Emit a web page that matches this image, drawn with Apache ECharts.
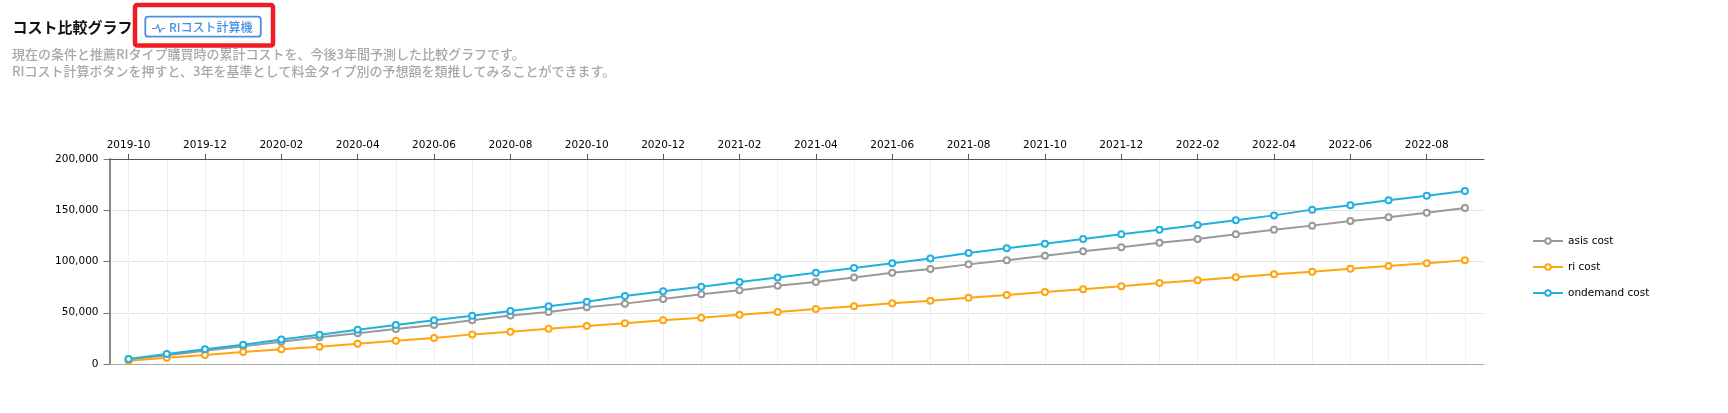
<!DOCTYPE html>
<html>
<head>
<meta charset="utf-8">
<style>html,body{margin:0;padding:0;background:#fff}#c{width:1728px;height:413px}</style>
<script src="https://cdn.jsdelivr.net/npm/echarts@6/dist/echarts.min.js"></script>
</head>
<body>
<div id="c"></div>
<script>
const months = ["2019-10","2019-11","2019-12","2020-01","2020-02","2020-03","2020-04","2020-05","2020-06","2020-07","2020-08","2020-09","2020-10","2020-11","2020-12","2021-01","2021-02","2021-03","2021-04","2021-05","2021-06","2021-07","2021-08","2021-09","2021-10","2021-11","2021-12","2022-01","2022-02","2022-03","2022-04","2022-05","2022-06","2022-07","2022-08","2022-09"];
const asisCost = [4500,8500,13000,17200,21800,26000,29900,34100,38000,42600,47400,50700,55300,58900,63400,68000,71900,76400,80000,84500,89100,92700,97200,101200,105700,110000,113900,118400,122000,126500,131000,135000,139500,143100,147600,152200];
const riCost = [3250,6200,8800,11700,14300,16900,19800,22800,25400,28900,31500,34500,37100,39700,42600,45200,48100,50700,53700,56300,59200,61800,64700,67300,70200,72900,75800,79000,81700,84600,87500,90100,93000,95600,98200,101100];
const ondemandCost = [4900,9750,14300,18850,24000,28600,33500,38000,42600,47150,51700,56250,60800,66300,70900,75400,80000,84500,89100,93700,98200,102900,108400,112900,117400,122000,126500,131000,135600,140200,145000,150600,154800,159700,164200,168800];
const titleText = "コスト比較グラフ";
const buttonText = "RIコスト計算機";
const descLine1 = "現在の条件と推薦RIタイプ購買時の累計コストを、今後3年間予測した比較グラフです。";
const descLine2 = "RIコスト計算ボタンを押すと、3年を基準として料金タイプ別の予想額を類推してみることができます。";

const cjk = '"Noto Sans CJK JP","Noto Sans",sans-serif';
const latin = '"DejaVu Sans",Verdana,sans-serif';
const mkSeries = (name, data, color) => ({
  name, data, type: 'line', xAxisIndex: 0, symbol: 'circle', symbolSize: 6, showSymbol: true,
  lineStyle: {color, width: 2},
  itemStyle: {color: '#fff', borderColor: color, borderWidth: 2},
  emphasis: {disabled: true}, animation: false, z: 5
});
const chart = echarts.init(document.getElementById('c'));
chart.setOption({
  animation: false,
  backgroundColor: '#fff',
  grid: {left: 109.5, right: 244, top: 159, bottom: 49, containLabel: false},
  legend: {
    left: 1527, top: 230.5, orient: 'vertical', itemWidth: 30, itemHeight: 7, itemGap: 15,
    textStyle: {fontFamily: latin, fontSize: 10.5, color: '#000'},
    data: [
      {name: 'asis cost'}, {name: 'ri cost'}, {name: 'ondemand cost'}
    ]
  },
  xAxis: [{
    type: 'category', position: 'top', data: months, boundaryGap: true,
    axisLine: {onZero: false, lineStyle: {color: '#555', width: 1}},
    axisTick: {show: true, alignWithLabel: true, interval: 1, length: 5, lineStyle: {color: '#555'}},
    axisLabel: {interval: 1, fontFamily: latin, fontSize: 10.5, color: '#000', margin: 8},
    splitLine: {show: true, alignWithLabel: true, interval: 1, lineStyle: {color: '#cccccc', type: 'dotted', width: 1}}
  }, {
    type: 'category', position: 'bottom', data: months, boundaryGap: true,
    axisLine: {show: true, onZero: false, lineStyle: {color: '#aaa', width: 1}},
    axisTick: {show: false}, axisLabel: {show: false},
    splitLine: {show: true, alignWithLabel: true, interval: 0, lineStyle: {color: '#e2e2e2', type: 'dotted', width: 1}}
  }],
  yAxis: {
    type: 'value', min: 0, max: 200000, interval: 50000,
    axisLine: {show: true, lineStyle: {color: '#888', width: 2}},
    axisTick: {show: true, length: 6, lineStyle: {color: '#777'}},
    axisLabel: {fontFamily: latin, fontSize: 10.5, color: '#000', margin: 11, formatter: v => v.toLocaleString('en-US')},
    splitLine: {lineStyle: {color: '#e4e4e4', width: 1}}
  },
  series: [
    mkSeries('asis cost', asisCost, '#999999'),
    mkSeries('ri cost', riCost, '#ffa50f'),
    mkSeries('ondemand cost', ondemandCost, '#22b0de')
  ],
  graphic: [
    {type: 'text', x: 12.5, y: 27, style: {text: titleText, font: 'bold 15px ' + cjk, fill: '#111', verticalAlign: 'middle'}},
    {type: 'rect', shape: {x: 135, y: 5, width: 138, height: 40.5, r: 2}, style: {fill: '#fff', stroke: '#ee1c25', lineWidth: 4.5}},
    {type: 'rect', shape: {x: 145.3, y: 16.7, width: 115.5, height: 20, r: 3}, style: {fill: '#fff', stroke: '#4a90e2', lineWidth: 1.8}},
    {type: 'polyline', shape: {points: [[152,28.5],[156,28.5],[158,25],[160,32],[162,28.5],[165,28.5]]}, style: {stroke: '#4a90e2', lineWidth: 1.2, fill: null}},
    {type: 'text', x: 169, y: 27, style: {text: buttonText, font: '500 12px ' + cjk, fill: '#4a90e2', verticalAlign: 'middle'}},
    {type: 'text', x: 12, y: 54, style: {text: descLine1, font: '500 13px ' + cjk, fill: '#a8a8a8', verticalAlign: 'middle'}},
    {type: 'text', x: 12, y: 71, style: {text: descLine2, font: '500 13px ' + cjk, fill: '#a8a8a8', verticalAlign: 'middle'}}
  ]
});
</script>
</body>
</html>
